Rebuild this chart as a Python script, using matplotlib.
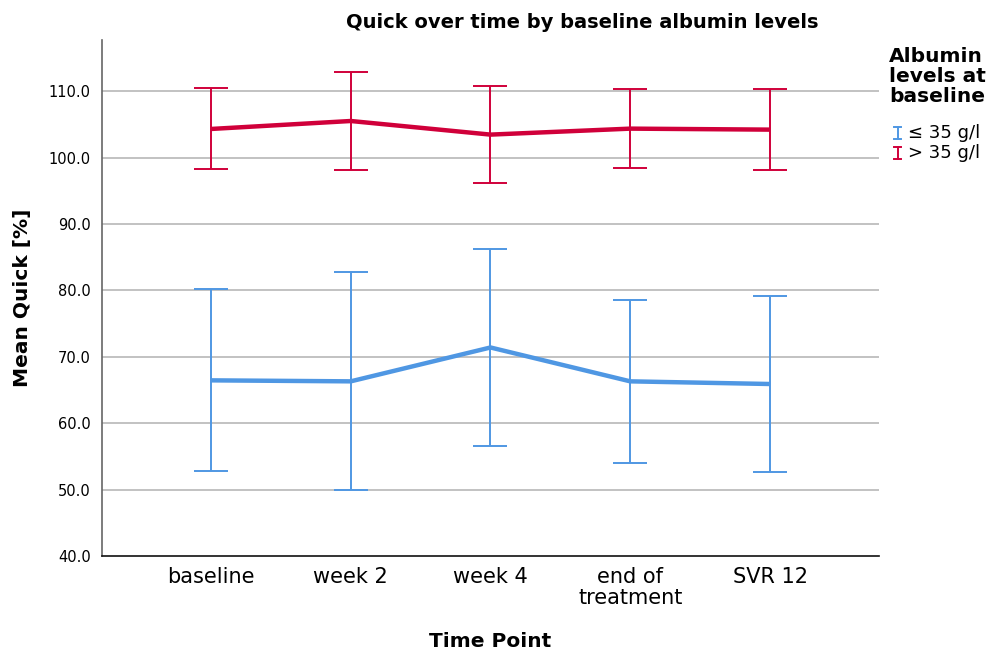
import numpy as np
import matplotlib
matplotlib.use("Agg")
import matplotlib.pyplot as plt
from matplotlib.lines import Line2D

# Time points on the x axis
time_points = ["baseline", "week 2", "week 4", "end of\ntreatment", "SVR 12"]

# Mean Quick [%] with 95% CI bounds, albumin <= 35 g/l
low_alb_mean = [66.45, 66.3, 71.4, 66.3, 65.9]
low_alb_lower = [52.75, 50.0, 56.5, 54.0, 52.6]
low_alb_upper = [80.2, 82.8, 86.2, 78.5, 79.1]

# Mean Quick [%] with 95% CI bounds, albumin > 35 g/l
high_alb_mean = [104.3, 105.5, 103.45, 104.35, 104.2]
high_alb_lower = [98.2, 98.1, 96.15, 98.4, 98.15]
high_alb_upper = [110.4, 112.85, 110.7, 110.3, 110.25]

group_labels = ["\u2264 35 g/l", "> 35 g/l"]
BLUE = "#4F97E3"
RED = "#D0003A"

plt.rcParams["font.family"] = ["DejaVu Sans"]

fig = plt.figure(figsize=(9.89, 6.52), dpi=100)
ax = fig.add_axes([0.1031, 0.1472, 0.7857, 0.7915])

x = np.arange(len(time_points))
for mean, lo, hi, col in [
    (low_alb_mean, low_alb_lower, low_alb_upper, BLUE),
    (high_alb_mean, high_alb_lower, high_alb_upper, RED),
]:
    mean = np.array(mean)
    yerr = [mean - np.array(lo), np.array(hi) - mean]
    ax.errorbar(x, mean, yerr=yerr, fmt="none", ecolor=col, elinewidth=1.4,
                capsize=12.5, capthick=1.4, zorder=3)
    ax.plot(x, mean, color=col, lw=3.2, solid_capstyle="butt", zorder=4)

ax.set_xlim(-0.78, 4.78)
ax.set_ylim(40, 117.7)
ax.set_yticks(np.arange(40, 111, 10))
ax.set_yticklabels([f"{v:.1f}" for v in np.arange(40, 111, 10)], fontsize=10.5)
ax.set_xticks(x)
ax.set_xticklabels(time_points, fontsize=15, linespacing=1.05)
ax.tick_params(axis="both", length=0)
ax.tick_params(axis="y", pad=8)
ax.tick_params(axis="x", pad=8)

for v in np.arange(50, 111, 10):
    ax.axhline(v, color="#BDBDBD", lw=1.3, zorder=1)

for side in ("top", "right"):
    ax.spines[side].set_visible(False)
ax.spines["left"].set_color("#666666")
ax.spines["left"].set_linewidth(1.2)
ax.spines["bottom"].set_color("#111111")
ax.spines["bottom"].set_linewidth(1.2)

ax.set_xlabel("Time Point", fontsize=14.5, fontweight="bold", labelpad=17)
ax.set_ylabel("Mean Quick [%]", fontsize=14.5, fontweight="bold", labelpad=12)

fig.text(582 / 989, 1 - 23 / 652, "Quick over time by baseline albumin levels",
         ha="center", va="center", fontsize=14, fontweight="bold")

# legend block on the right
W, H = 989, 652
fig.text(889 / W, 1 - 47 / H, "Albumin\nlevels at\nbaseline", ha="left", va="top",
         fontsize=14.5, fontweight="bold", linespacing=1.05)
for i, (lab, col) in enumerate(zip(group_labels, [BLUE, RED])):
    yc = 133 + i * 20
    xc = 897.5
    for seg in [((xc, xc), (yc - 6, yc + 6)),
                ((xc - 3.5, xc + 3.5), (yc - 6, yc - 6)),
                ((xc - 3.5, xc + 3.5), (yc + 6, yc + 6))]:
        fig.add_artist(Line2D([p / W for p in seg[0]], [1 - p / H for p in seg[1]],
                              color=col, lw=1.4, transform=fig.transFigure))
    fig.text(908 / W, 1 - yc / H, lab, ha="left", va="center", fontsize=13)

fig.savefig("out.png", dpi=100)
